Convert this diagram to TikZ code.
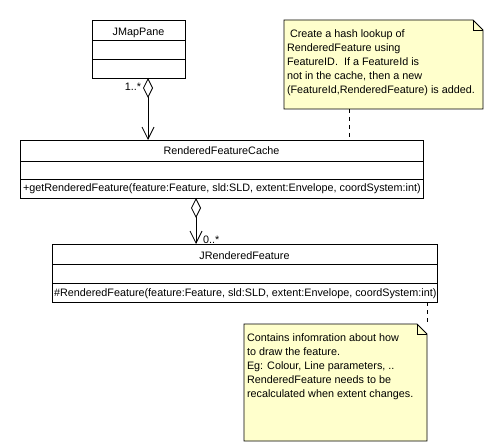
\documentclass[tikz,border=0pt]{standalone}
\usepackage{fontspec}
\setmainfont{Liberation Sans}
\usetikzlibrary{arrows.meta,calc}
\definecolor{notefill}{RGB}{255,255,204}
\begin{document}
\begin{tikzpicture}[x=1pt,y=-1pt,
  box/.style={draw, line width=0.8pt, fill=white, inner sep=0pt, outer sep=0pt, anchor=north west},
  ghost/.style={inner sep=0pt, outer sep=0pt, anchor=north west},
  tx/.style={inner sep=0pt, outer sep=0pt, font=\fontsize{10.8}{12}\selectfont},
  notetx/.style={tx, align=left, anchor=base west, font=\fontsize{10.8}{14.2}\selectfont},
  notepath/.style={draw, line width=0.8pt, fill=notefill},
  divider/.style={line width=0.8pt},
  assoc/.style={line width=0.8pt, {Diamond[open, length=20pt, width=10pt, line width=0.8pt]}-{Straight Barb[length=12pt, width=12pt, line width=0.8pt]}},
  anchorline/.style={line width=0.8pt, dash pattern=on 4pt off 4pt}
]
\useasboundingbox[fill=white] (0,0) rectangle (489,446);

% ---- JMapPane
\node[box, minimum width=93pt, minimum height=58pt] (jmp) at (92,20) {};
\draw[divider] ($(jmp.north west)+(0,20)$) -- ($(jmp.north east)+(0,20)$);
\draw[divider] ($(jmp.north west)+(0,39)$) -- ($(jmp.north east)+(0,39)$);
\node[tx, anchor=base] (jmpname) at ($(jmp.north)+(0,16)$) {JMapPane};

% ---- RenderedFeatureCache
\node[box, minimum width=403pt, minimum height=58pt] (rfc) at (20,140) {};
\draw[divider] ($(rfc.north west)+(0,21)$) -- ($(rfc.north east)+(0,21)$);
\draw[divider] ($(rfc.north west)+(0,39)$) -- ($(rfc.north east)+(0,39)$);
\node[tx, anchor=base] (rfcname) at ($(rfc.north)+(0,15)$) {RenderedFeatureCache};
\node[tx, anchor=base west] (rfcop) at ($(rfc.north west)+(3,52)$) {+getRenderedFeature(feature:Feature, sld:SLD, extent:Envelope, coordSystem:int)};

% ---- JRenderedFeature
\node[box, minimum width=385pt, minimum height=58pt] (jrf) at (52,244) {};
\draw[divider] ($(jrf.north west)+(0,20)$) -- ($(jrf.north east)+(0,20)$);
\draw[divider] ($(jrf.north west)+(0,39)$) -- ($(jrf.north east)+(0,39)$);
\node[tx, anchor=base] (jrfname) at ($(jrf.north)+(0,15)$) {JRenderedFeature};
\node[tx, anchor=base west] (jrfop) at ($(jrf.north west)+(2,52.5)$) {\#RenderedFeature(feature:Feature, sld:SLD, extent:Envelope, coordSystem:int)};

% ---- Note 1
\node[ghost, minimum width=199pt, minimum height=89pt] (n1) at (284,20) {};
\draw[notepath] (n1.north west) -- ($(n1.north east)+(-10,0)$) -- ($(n1.north east)+(0,10)$) -- (n1.south east) -- (n1.south west) -- cycle;
\draw[divider] ($(n1.north east)+(-10,0)$) -- ($(n1.north east)+(-10,10)$) -- ($(n1.north east)+(0,10)$);
\node[notetx] (n1text) at ($(n1.north west)+(3,74)$) {\ Create a hash lookup of\\RenderedFeature using\\FeatureID.\ \ If a FeatureId is\\not in the cache, then a new\\(FeatureId,RenderedFeature) is added.};

% ---- Note 2
\node[ghost, minimum width=183pt, minimum height=117pt] (n2) at (244,324) {};
\draw[notepath] (n2.north west) -- ($(n2.north east)+(-10,0)$) -- ($(n2.north east)+(0,10)$) -- (n2.south east) -- (n2.south west) -- cycle;
\draw[divider] ($(n2.north east)+(-10,0)$) -- ($(n2.north east)+(-10,10)$) -- ($(n2.north east)+(0,10)$);
\node[notetx, font=\fontsize{10.8}{14}\selectfont] (n2text) at ($(n2.north west)+(3,73)$) {Contains infomration about how\\to draw the feature.\\Eg: Colour, Line parameters, ..\\RenderedFeature needs to be\\recalculated when extent changes.};

% ---- connectors
\coordinate (xa) at (148,0);
\coordinate (xb) at (196,0);
\coordinate (xc) at (349,0);
\coordinate (xd) at (427,0);
\draw[assoc] (jmp.south -| xa) -- (rfc.north -| xa);
\node[tx, anchor=base east] (m1) at (141,91) {1..*};
\draw[assoc] (rfc.south -| xb) -- (jrf.north -| xb);
\node[tx, anchor=base west] (m2) at (203,243) {0..*};
\draw[anchorline] (n1.south -| xc) -- (rfc.north -| xc);
\draw[anchorline] (jrf.south -| xd) -- (n2.north east);
\end{tikzpicture}
\end{document}
